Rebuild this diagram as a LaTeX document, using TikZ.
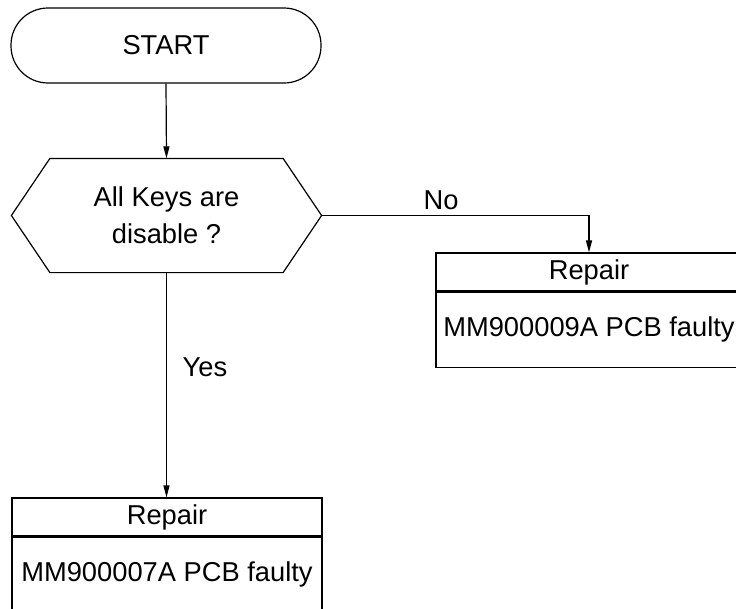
\documentclass[tikz,border=0pt]{standalone}
\usepackage{fontspec}
\setmainfont{Liberation Sans}
\usetikzlibrary{arrows.meta}
\begin{document}
\begin{tikzpicture}[x=1pt,y=-1pt, line width=1.2pt,
  >={Triangle[length=12pt,width=6pt]},
  every node/.style={font=\fontsize{27.3}{37}\selectfont, inner sep=0pt},
  startbox/.style={draw, minimum width=310pt, minimum height=75pt, rounded corners=37pt},
  hdrbox/.style={draw, minimum width=#1, minimum height=38pt},
  bodybox/.style={draw, minimum width=#1, minimum height=75pt, anchor=north}]
\useasboundingbox (0,0) rectangle (736,608);
\clip (0,0) rectangle (736,608);

\node[startbox] (start) at (166,45.5) {START};

\node[minimum width=309pt, minimum height=113pt, align=center] (dec) at (166.5,215.5) {All Keys are\\disable ?};
\draw (dec.west) -- ([xshift=38.5pt]dec.north west) -- ([xshift=-38.5pt]dec.north east)
  -- (dec.east) -- ([xshift=-38.5pt]dec.south east) -- ([xshift=38.5pt]dec.south west) -- cycle;

\node[hdrbox=306pt] (rh) at (589,272) {Repair};
\node[bodybox=306pt] (rb) at (rh.south) {MM900009A PCB faulty};

\node[hdrbox=310pt] (bh) at (167,517) {Repair};
\node[bodybox=310pt] (bb) at (bh.south) {MM900007A PCB faulty};

\draw[->] (start.south) -- (dec.north);
\draw[->] (dec.east) -| (rh.north);
\draw[->] (dec.south) -- (bh.north -| dec.south);

\node (no) at (441,200) {No};
\node (yes) at (205,367) {Yes};
\end{tikzpicture}
\end{document}
